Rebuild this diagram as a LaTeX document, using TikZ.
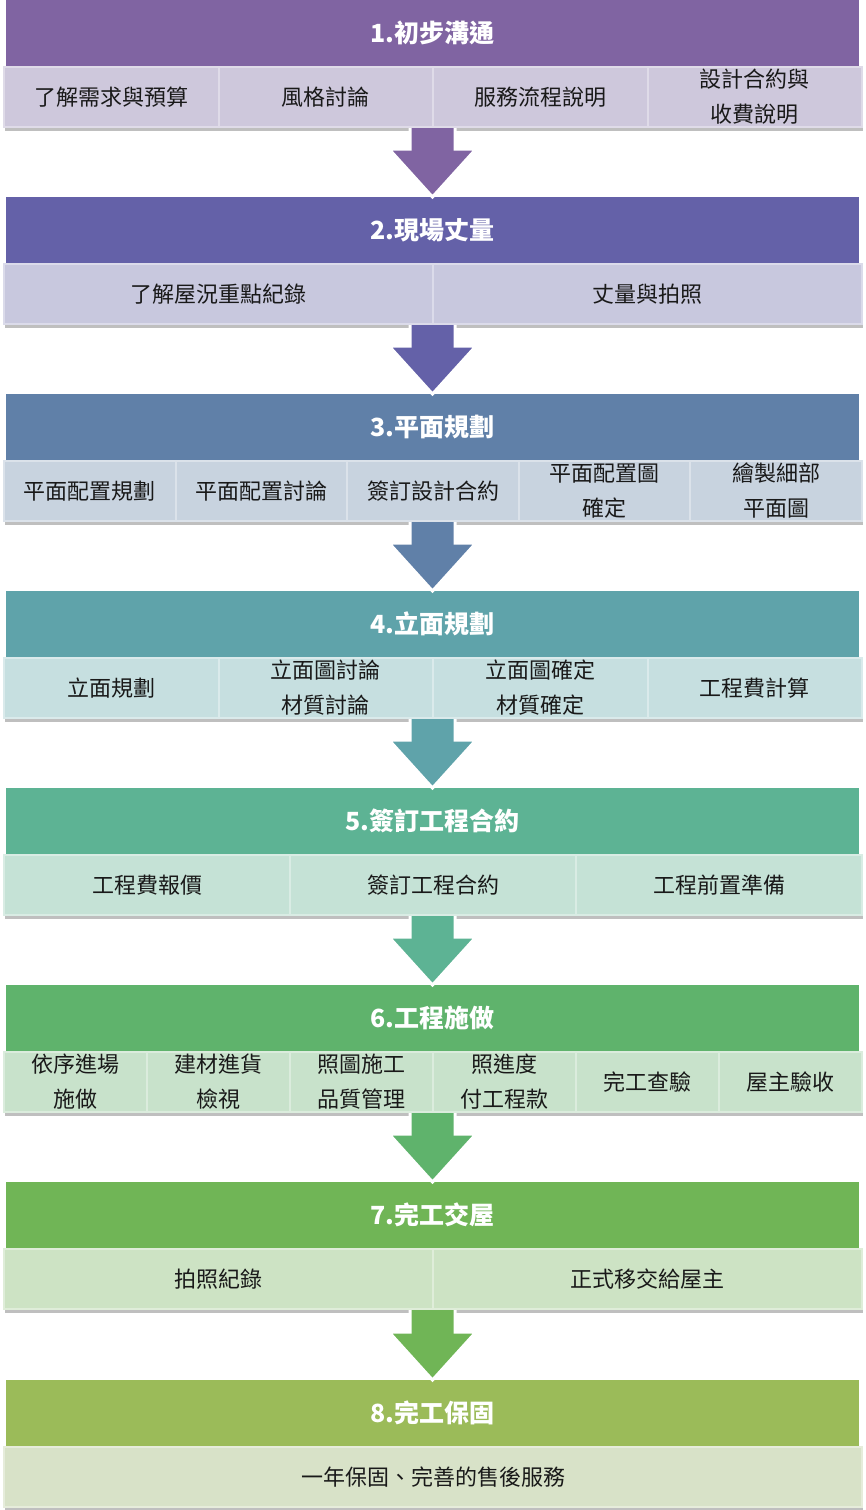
\documentclass[tikz,border=0pt]{standalone}
\usepackage{fontspec}
\setmainfont{Noto Sans CJK TC}
\usetikzlibrary{positioning,calc}

\definecolor{hA}{RGB}{128,100,162}
\definecolor{hB}{RGB}{100,97,168}
\definecolor{hC}{RGB}{96,128,168}
\definecolor{hD}{RGB}{95,163,170}
\definecolor{hE}{RGB}{93,179,148}
\definecolor{hF}{RGB}{95,179,108}
\definecolor{hG}{RGB}{112,181,86}
\definecolor{hH}{RGB}{155,187,89}
\definecolor{sA}{RGB}{206,200,220}
\definecolor{sB}{RGB}{200,200,222}
\definecolor{sC}{RGB}{200,211,223}
\definecolor{sD}{RGB}{198,223,224}
\definecolor{sE}{RGB}{197,226,214}
\definecolor{sF}{RGB}{200,226,203}
\definecolor{sG}{RGB}{205,227,196}
\definecolor{sH}{RGB}{216,226,200}

\tikzset{
  head/.style={fill=#1, minimum width=853, minimum height=66, inner sep=0, outer sep=0,
    text=white, font=\bfseries\fontsize{25}{30}\selectfont},
  cell/.style={fill=#1, draw=#1!65!white, line width=2pt, minimum height=60,
    inner sep=0, outer sep=0, align=center, text=black!90,
    font=\fontsize{22}{35}\selectfont},
  rowshade/.style={fill=black!25},
  arrowrim/.style={draw=white, line width=3pt},
}

% block arrow: #1 start coordinate, #2 next header, #3 colour
\newcommand\flowarrow[3]{%
  \fill[#3] ($(#1)+(-22.5,0)$) -- ($(#2.north)+(-22.5,-48)$) -- ($(#2.north)+(-43.5,-48)$)
    -- (#2.north) -- ($(#2.north)+(43.5,-48)$) -- ($(#2.north)+(22.5,-48)$) -- ($(#1)+(22.5,0)$) -- cycle;
  \draw[arrowrim] ($(#1)+(-22.5,0)$) -- ($(#2.north)+(-22.5,-48)$) -- ($(#2.north)+(-43.5,-48)$)
    -- (#2.north) -- ($(#2.north)+(43.5,-48)$) -- ($(#2.north)+(22.5,-48)$) -- ($(#1)+(22.5,0)$);
}

\begin{document}
\begin{tikzpicture}[x=1pt, y=-1pt]
  \useasboundingbox (0,0) rectangle (866,1510);

  % 1
  \node[head=hA] (h1) at (432.5,33) {1.初步溝通};
  \node[cell=sA, minimum width=214.5, anchor=north west] (s11) at ($(h1.south west)+(-2,1)$) {了解需求與預算};
  \node[cell=sA, minimum width=214.5, right=0pt of s11] (s12) {風格討論};
  \node[cell=sA, minimum width=214.5, right=0pt of s12] (s13) {服務流程說明};
  \node[cell=sA, minimum width=214.5, right=0pt of s13] (s14) {設計合約與\\收費說明};
  \fill[rowshade] ($(s11.south west)+(1,1)$) rectangle ($(s14.south east)+(1,4)$);
  \coordinate (b1) at ($(h1.south)+(0,62)$);

  % 2
  \node[head=hB] (h2) at (432.5,230) {2.現場丈量};
  \node[cell=sB, minimum width=429, anchor=north west] (s21) at ($(h2.south west)+(-2,1)$) {了解屋況重點紀錄};
  \node[cell=sB, minimum width=429, right=0pt of s21] (s22) {丈量與拍照};
  \fill[rowshade] ($(s21.south west)+(1,1)$) rectangle ($(s22.south east)+(1,4)$);
  \coordinate (b2) at ($(h2.south)+(0,62)$);

  % 3
  \node[head=hC] (h3) at (432.5,427) {3.平面規劃};
  \node[cell=sC, minimum width=171.6, anchor=north west] (s31) at ($(h3.south west)+(-2,1)$) {平面配置規劃};
  \node[cell=sC, minimum width=171.6, right=0pt of s31] (s32) {平面配置討論};
  \node[cell=sC, minimum width=171.6, right=0pt of s32] (s33) {簽訂設計合約};
  \node[cell=sC, minimum width=171.6, right=0pt of s33] (s34) {平面配置圖\\確定};
  \node[cell=sC, minimum width=171.6, right=0pt of s34] (s35) {繪製細部\\平面圖};
  \fill[rowshade] ($(s31.south west)+(1,1)$) rectangle ($(s35.south east)+(1,4)$);
  \coordinate (b3) at ($(h3.south)+(0,62)$);

  % 4
  \node[head=hD] (h4) at (432.5,624) {4.立面規劃};
  \node[cell=sD, minimum width=214.5, anchor=north west] (s41) at ($(h4.south west)+(-2,1)$) {立面規劃};
  \node[cell=sD, minimum width=214.5, right=0pt of s41] (s42) {立面圖討論\\材質討論};
  \node[cell=sD, minimum width=214.5, right=0pt of s42] (s43) {立面圖確定\\材質確定};
  \node[cell=sD, minimum width=214.5, right=0pt of s43] (s44) {工程費計算};
  \fill[rowshade] ($(s41.south west)+(1,1)$) rectangle ($(s44.south east)+(1,4)$);
  \coordinate (b4) at ($(h4.south)+(0,62)$);

  % 5
  \node[head=hE] (h5) at (432.5,821) {5.簽訂工程合約};
  \node[cell=sE, minimum width=286, anchor=north west] (s51) at ($(h5.south west)+(-2,1)$) {工程費報價};
  \node[cell=sE, minimum width=286, right=0pt of s51] (s52) {簽訂工程合約};
  \node[cell=sE, minimum width=286, right=0pt of s52] (s53) {工程前置準備};
  \fill[rowshade] ($(s51.south west)+(1,1)$) rectangle ($(s53.south east)+(1,4)$);
  \coordinate (b5) at ($(h5.south)+(0,62)$);

  % 6
  \node[head=hF] (h6) at (432.5,1018) {6.工程施做};
  \node[cell=sF, minimum width=143, anchor=north west] (s61) at ($(h6.south west)+(-2,1)$) {依序進場\\施做};
  \node[cell=sF, minimum width=143, right=0pt of s61] (s62) {建材進貨\\檢視};
  \node[cell=sF, minimum width=143, right=0pt of s62] (s63) {照圖施工\\品質管理};
  \node[cell=sF, minimum width=143, right=0pt of s63] (s64) {照進度\\付工程款};
  \node[cell=sF, minimum width=143, right=0pt of s64] (s65) {完工查驗};
  \node[cell=sF, minimum width=143, right=0pt of s65] (s66) {屋主驗收};
  \fill[rowshade] ($(s61.south west)+(1,1)$) rectangle ($(s66.south east)+(1,4)$);
  \coordinate (b6) at ($(h6.south)+(0,62)$);

  % 7
  \node[head=hG] (h7) at (432.5,1215) {7.完工交屋};
  \node[cell=sG, minimum width=429, anchor=north west] (s71) at ($(h7.south west)+(-2,1)$) {拍照紀錄};
  \node[cell=sG, minimum width=429, right=0pt of s71] (s72) {正式移交給屋主};
  \fill[rowshade] ($(s71.south west)+(1,1)$) rectangle ($(s72.south east)+(1,4)$);
  \coordinate (b7) at ($(h7.south)+(0,62)$);

  % 8
  \node[head=hH] (h8) at (432.5,1413) {8.完工保固};
  \node[cell=sH, minimum width=858, anchor=north west] (s81) at ($(h8.south west)+(-2,1)$) {一年保固、完善的售後服務};
  \fill[rowshade] ($(s81.south west)+(1,1)$) rectangle ($(s81.south east)+(1,4)$);

  % arrows between the stages
  \flowarrow{b1}{h2}{hA}
  \flowarrow{b2}{h3}{hB}
  \flowarrow{b3}{h4}{hC}
  \flowarrow{b4}{h5}{hD}
  \flowarrow{b5}{h6}{hE}
  \flowarrow{b6}{h7}{hF}
  \flowarrow{b7}{h8}{hG}
\end{tikzpicture}
\end{document}
